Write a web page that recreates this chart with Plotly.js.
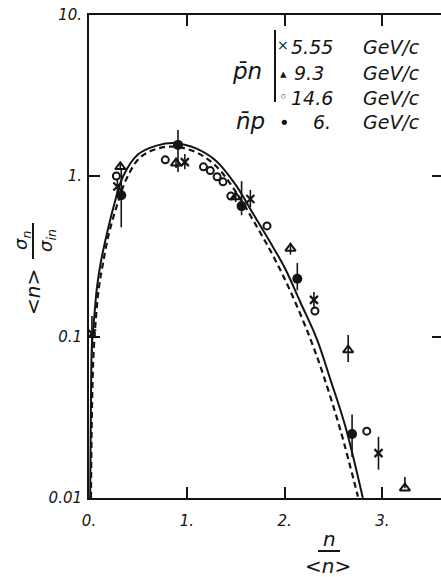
<!DOCTYPE html>
<html>
<head>
<meta charset="utf-8">
<script src="https://cdn.plot.ly/plotly-3.0.1.min.js"></script>
<style>
html,body{margin:0;padding:0;overflow:hidden;background:#fff;}
#plot{width:447px;height:577px;}
</style>
</head>
<body>
<div id="plot"></div>
<script>
// ---- data ----
var xTickVals = [0, 1, 2, 3];
var xTickText = ['0.', '1.', '2.', '3.'];
var yTickVals = [0.01, 0.1, 1, 10];
var yTickText = ['0.01', '0.1', '1.', '10.'];

// solid curve
var solidX = [0.012, 0.02, 0.03, 0.05, 0.08, 0.12, 0.18, 0.25, 0.35, 0.5, 0.7, 0.88, 1.1, 1.3, 1.5, 1.68, 1.85, 2.0, 2.16, 2.33, 2.47, 2.62, 2.8];
var solidY = [0.01, 0.04, 0.09, 0.125, 0.2, 0.29, 0.43, 0.64, 1.0, 1.36, 1.55, 1.6, 1.48, 1.24, 0.88, 0.58, 0.39, 0.27, 0.165, 0.097, 0.054, 0.028, 0.01];

// dashed curve
var dashX = [0.02, 0.03, 0.045, 0.07, 0.1, 0.14, 0.2, 0.28, 0.38, 0.52, 0.7, 0.88, 1.1, 1.3, 1.5, 1.72, 1.89, 2.06, 2.26, 2.4, 2.57, 2.75];
var dashY = [0.01, 0.035, 0.075, 0.13, 0.2, 0.28, 0.43, 0.64, 0.95, 1.3, 1.48, 1.52, 1.4, 1.15, 0.8, 0.48, 0.313, 0.192, 0.0986, 0.057, 0.0265, 0.0102];

// pbar n 5.55 GeV/c (crosses)
var p555X = [0.03, 0.29, 0.98, 1.65, 2.3, 2.96];
var p555Y = [0.105, 0.86, 1.22, 0.72, 0.17, 0.019];
var p555Up = [0.03, 0.1, 0.15, 0.1, 0.02, 0.005];
var p555Dn = [0.025, 0.1, 0.12, 0.08, 0.02, 0.004];

// pbar n 9.3 GeV/c (triangles)
var p93X = [0.32, 0.89, 1.5, 2.06, 2.65, 3.23];
var p93Y = [1.14, 1.2, 0.74, 0.355, 0.083, 0.0115];
var p93Up = [0.05, 0.1, 0.05, 0.03, 0.02, 0.002];
var p93Dn = [0.05, 0.08, 0.05, 0.03, 0.013, 0.0];

// pbar n 14.6 GeV/c (open circles)
var p146X = [0.28, 0.78, 1.17, 1.24, 1.31, 1.37, 1.45, 1.82, 2.31, 2.84];
var p146Y = [1.0, 1.26, 1.14, 1.08, 0.99, 0.92, 0.75, 0.49, 0.145, 0.026];

// nbar p 6 GeV/c (filled circles)
var np6X = [0.33, 0.91, 1.56, 2.13, 2.69];
var np6Y = [0.76, 1.56, 0.65, 0.23, 0.025];
var np6Up = [0.33, 0.37, 0.28, 0.058, 0.008];
var np6Dn = [0.28, 0.5, 0.08, 0.035, 0.007];

// ---- layout helpers (pixel -> paper) ----
var L = 89, R = 443, T = 15, B = 498;
function px(x){ return (x - L) / (R - L); }
function py(y){ return (B - y) / (B - T); }

var ink = '#141414';
var fam = 'DejaVu Sans, sans-serif';
function ann(text, x, y, size, opts){
  var a = {text: text, x: px(x), y: py(y), xref: 'paper', yref: 'paper',
    showarrow: false, xanchor: 'center', yanchor: 'middle',
    font: {family: fam, size: size, color: ink, style: 'italic'}};
  for (var k in (opts||{})) a[k] = opts[k];
  return a;
}

var errStyle = {type: 'data', symmetric: false, color: ink, thickness: 1.6, width: 0};
function eb(up, dn){ var e = Object.assign({}, errStyle); e.array = up; e.arrayminus = dn; return e; }

var traces = [
  {x: solidX, y: solidY, mode: 'lines', line: {color: ink, width: 2, shape: 'spline'}, hoverinfo: 'skip'},
  {x: dashX, y: dashY, mode: 'lines', line: {color: ink, width: 2.2, dash: '6px,4px', shape: 'spline'}, hoverinfo: 'skip'},
  {x: p555X, y: p555Y, mode: 'markers', error_y: eb(p555Up, p555Dn),
    marker: {symbol: 'x-thin-open', size: 8, color: ink, line: {color: ink, width: 2.2}}},
  {x: p93X, y: p93Y, mode: 'markers', error_y: eb(p93Up, p93Dn),
    marker: {symbol: 'triangle-up-open', size: 9, color: ink, line: {color: ink, width: 2}}},
  {x: p146X, y: p146Y, mode: 'markers',
    marker: {symbol: 'circle-open', size: 7, color: ink, line: {color: ink, width: 2}}},
  {x: np6X, y: np6Y, mode: 'markers', error_y: eb(np6Up, np6Dn),
    marker: {symbol: 'circle', size: 10, color: ink}}
];

var tickFont = {family: fam, size: 15, color: ink, style: 'italic'};

var layout = {
  width: 447, height: 577,
  margin: {l: L, r: 447 - R, t: T, b: 577 - B},
  paper_bgcolor: '#ffffff', plot_bgcolor: '#ffffff',
  showlegend: false,
  xaxis: {range: [0, (R - L) / 97.8], tickvals: xTickVals, ticktext: xTickText,
    ticks: 'inside', ticklen: 11, tickwidth: 2, tickcolor: ink,
    showline: true, linewidth: 2, linecolor: ink, mirror: 'ticks',
    showgrid: false, zeroline: false, tickfont: tickFont, ticklabelstandoff: 8},
  yaxis: {type: 'log', range: [-2, 1], tickvals: yTickVals, ticktext: yTickText,
    ticks: 'inside', ticklen: 11, tickwidth: 2, tickcolor: ink,
    showline: true, linewidth: 2, linecolor: ink, mirror: 'ticks',
    showgrid: false, zeroline: false, tickfont: tickFont, ticklabelstandoff: 2},
  annotations: [
    // y-axis title: <n> sigma_n / sigma_in (rotated)
    ann('&lt;n&gt;', 33, 292, 20, {textangle: -90}),
    ann('σ<sub>n</sub>', 22, 241, 18, {textangle: -90}),
    ann('σ<sub>in</sub>', 47, 241, 18, {textangle: -90}),
    // x-axis title: n / <n>
    ann('n', 329, 539, 20),
    ann('&lt;n&gt;', 328, 566, 20),
    // legend block
    ann('p̄n', 247, 71, 23),
    ann('×', 283, 45, 14),
    ann('5.55', 289, 47, 19, {xanchor: 'left'}),
    ann('GeV/c', 361, 47, 19, {xanchor: 'left'}),
    ann('▴', 283, 73, 13),
    ann('9.3', 292, 73, 19, {xanchor: 'left'}),
    ann('GeV/c', 361, 73, 19, {xanchor: 'left'}),
    ann('◦', 283, 97, 15),
    ann('14.6', 289, 98, 19, {xanchor: 'left'}),
    ann('GeV/c', 361, 98, 19, {xanchor: 'left'}),
    ann('n̄p', 250, 121, 23),
    ann('•', 284, 122, 18),
    ann('6.', 311, 122, 19, {xanchor: 'left'}),
    ann('GeV/c', 361, 122, 19, {xanchor: 'left'})
  ],
  shapes: [
    {type: 'line', xref: 'paper', yref: 'paper', x0: px(33), x1: px(33), y0: py(223), y1: py(259), line: {color: ink, width: 2}},
    {type: 'line', xref: 'paper', yref: 'paper', x0: px(318), x1: px(340), y0: py(551), y1: py(551), line: {color: ink, width: 2}},
    {type: 'line', xref: 'paper', yref: 'paper', x0: px(275), x1: px(275), y0: py(30), y1: py(102), line: {color: ink, width: 2}}
  ]
};

Plotly.newPlot('plot', traces, layout, {displayModeBar: false, staticPlot: true});
</script>
</body>
</html>
